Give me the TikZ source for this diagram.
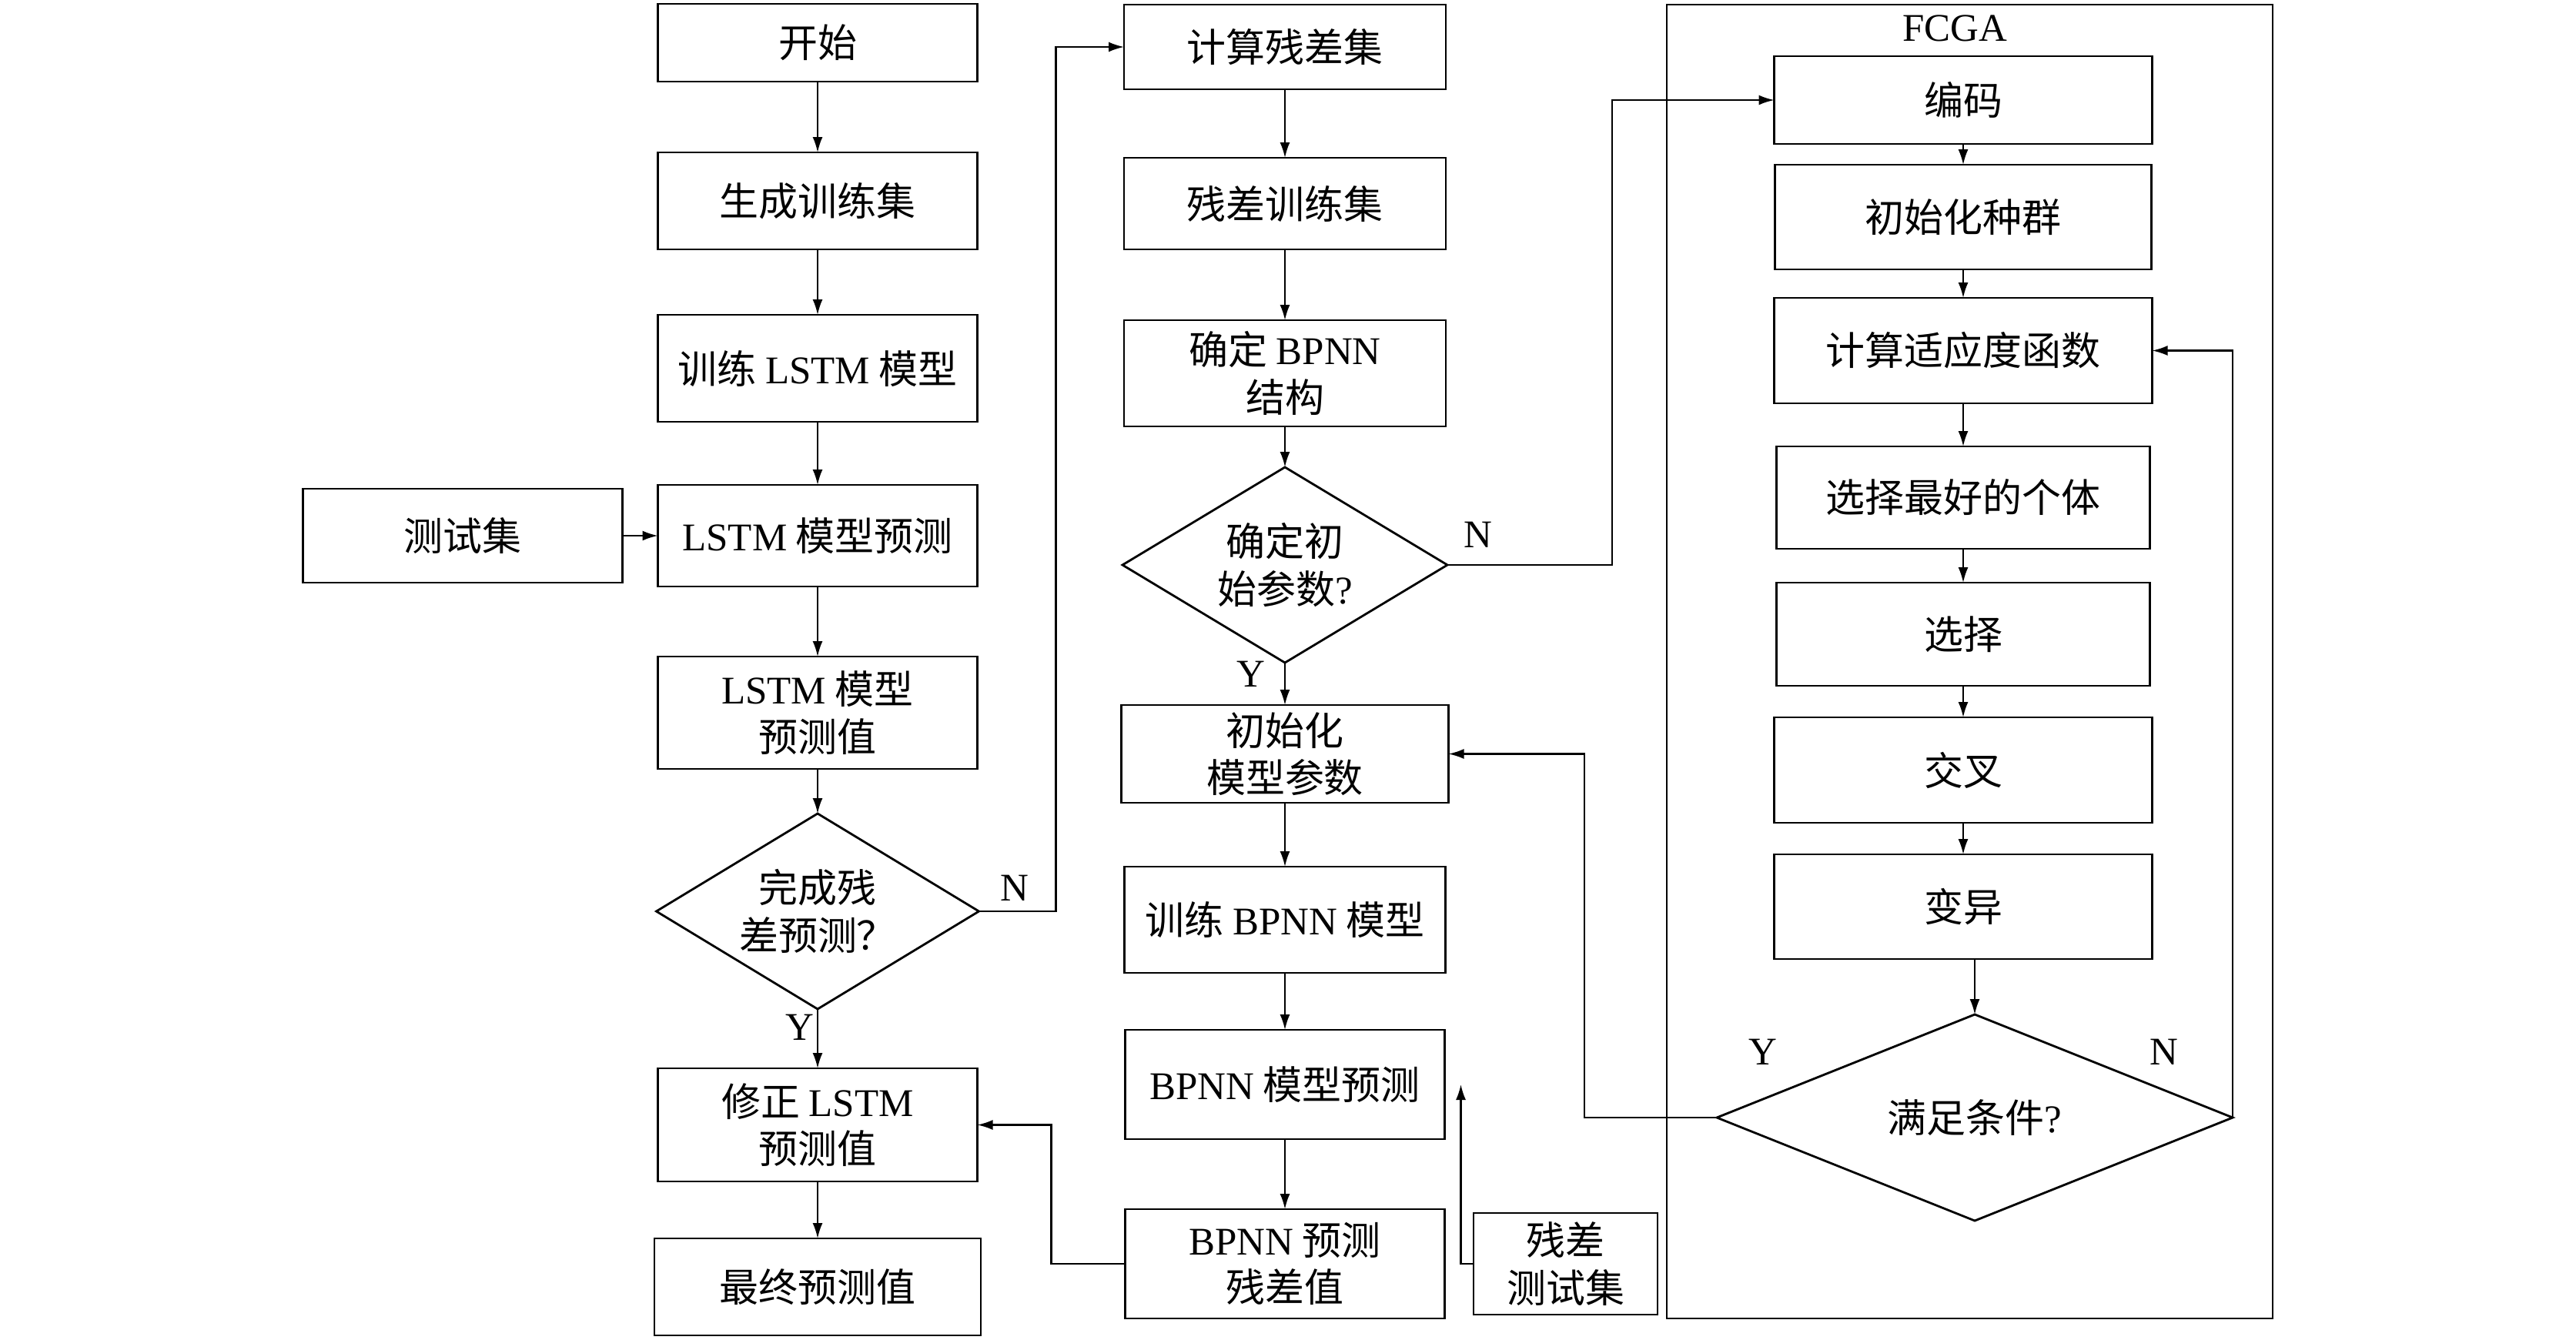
\documentclass[tikz,border=0pt]{standalone}
\usepackage{fontspec}
\setmainfont{Liberation Serif}
\newfontfamily\cjk{Noto Sans CJK SC}
\usepackage{tikz}
\usetikzlibrary{positioning,shapes.geometric,arrows.meta,calc}
\newcommand{\latw}[1]{{\rmfamily #1}}

\begin{document}
\begin{tikzpicture}[
				boxnode/.style={rectangle, draw, line width=0.8pt, minimum width=4.15cm, align=center, inner sep=2pt, outer sep=0pt},
				decnode/.style={diamond, draw, line width=0.8pt, inner sep=0pt, outer sep=0pt, align=center},
				labelnode/.style={font=\rmfamily\fontsize{14.5}{17.5}\selectfont},
				font=\cjk\fontsize{14.5}{17.5}\selectfont,
				line width=0.6pt,
				>={Latex[length=2mm,width=1.3mm]},
				]
				\useasboundingbox (0,0) rectangle (33.46,-17.40);
				%Nodes
				\node[boxnode, minimum height=1.01cm](start) at (10.62,-0.555){开始};
				\node[boxnode, minimum height=1.26cm](gen)[below=0.92cm of start]{生成训练集};
				\node[boxnode, minimum height=1.39cm](trainl)[below=0.85cm of gen]{训练 \latw{LSTM} 模型};
				\node[boxnode, minimum height=1.32cm](predl)[below=0.82cm of trainl]{\latw{LSTM} 模型预测};
				\node[boxnode, minimum height=1.46cm](predv)[below=0.91cm of predl]{\latw{LSTM} 模型\\预测值};
				\node[decnode, aspect=1.65, minimum width=4.19cm, minimum height=2.54cm](done)[below=0.58cm of predv]{完成残\\差预测？};
				\node[boxnode, minimum height=1.47cm](fix)[below=0.77cm of done]{修正 \latw{LSTM}\\预测值};
				\node[boxnode, minimum width=4.24cm, minimum height=1.26cm](final)[below=0.74cm of fix]{最终预测值};
				\node[boxnode, minimum height=1.22cm](test)[left=0.46cm of predl]{测试集};
				
				\node[boxnode, minimum width=4.18cm, minimum height=1.10cm](res) at (16.69,-0.61){计算残差集};
				\node[boxnode, minimum width=4.18cm, minimum height=1.19cm](rtrain)[below=0.89cm of res]{残差训练集};
				\node[boxnode, minimum width=4.18cm, minimum height=1.38cm](bstruct)[below=0.92cm of rtrain]{确定 \latw{BPNN}\\结构};
				\node[decnode, aspect=1.65, minimum width=4.22cm, minimum height=2.54cm](param)[below=0.53cm of bstruct]{确定初\\始参数\latw{?}};
				\node[boxnode, minimum width=4.25cm, minimum height=1.27cm](init)[below=0.55cm of param]{初始化\\模型参数};
				\node[boxnode, minimum width=4.17cm, minimum height=1.38cm](btrain)[below=0.83cm of init]{训练 \latw{BPNN} 模型};
				\node[boxnode, minimum height=1.42cm](bpred)[below=0.74cm of btrain]{\latw{BPNN} 模型预测};
				\node[boxnode, minimum height=1.42cm](bres)[below=0.91cm of bpred]{\latw{BPNN} 预测\\残差值};
				\node[boxnode, minimum width=2.39cm, minimum height=1.32cm](rtest)[right=0.375cm of bres]{残差\\测试集};
				
				\draw[line width=0.8pt] (21.65,-0.06) rectangle (29.52,-17.13);
				\node[labelnode](fcga) at (25.39,-0.37){FCGA};
				\node[boxnode, minimum width=4.91cm, minimum height=1.14cm](code) at (25.50,-1.30){编码};
				\node[boxnode, minimum width=4.89cm, minimum height=1.36cm](pop)[below=0.27cm of code]{初始化种群};
				\node[boxnode, minimum width=4.91cm, minimum height=1.37cm](fit)[below=0.37cm of pop]{计算适应度函数};
				\node[boxnode, minimum width=4.85cm, minimum height=1.33cm](best)[below=0.56cm of fit]{选择最好的个体};
				\node[boxnode, minimum width=4.85cm, minimum height=1.34cm](sel)[below=0.44cm of best]{选择};
				\node[boxnode, minimum width=4.91cm, minimum height=1.37cm](cross)[below=0.41cm of sel]{交叉};
				\node[boxnode, minimum width=4.91cm, minimum height=1.36cm](mut)[below=0.41cm of cross]{变异};
				\node[decnode, aspect=2.5, minimum width=6.70cm, minimum height=2.68cm](cond)[below=0.72cm of mut, xshift=0.15cm]{满足条件\latw{?}};
				
				%Labels
				\node[labelnode](doneN) at (13.18,-11.54){N};
				\node[labelnode](doneY) at (10.39,-13.35){Y};
				\node[labelnode](paramN) at (19.20,-6.95){N};
				\node[labelnode](paramY) at (16.25,-8.76){Y};
				\node[labelnode](condY) at (22.90,-13.67){Y};
				\node[labelnode](condN) at (28.11,-13.67){N};
				\coordinate (rtin) at ($(bpred.east)+(0.21,0)$);
				
				%Lines
				\draw[->] (start.south) -- (gen.north);
				\draw[->] (gen.south) -- (trainl.north);
				\draw[->] (trainl.south) -- (predl.north);
				\draw[->] (test.east) -- (predl.west);
				\draw[->] (predl.south) -- (predv.north);
				\draw[->] (predv.south) -- (done.north);
				\draw[->] (done.south) -- (fix.north);
				\draw[->] (fix.south) -- (final.north);
				\draw[->] (done.east) -- ++(1.0,0) |- (res.west);
				
				\draw[->] (res.south) -- (rtrain.north);
				\draw[->] (rtrain.south) -- (bstruct.north);
				\draw[->] (bstruct.south) -- (param.north);
				\draw[->] (param.south) -- (init.north);
				\draw[->] (init.south) -- (btrain.north);
				\draw[->] (btrain.south) -- (bpred.north);
				\draw[->] (bpred.south) -- (bres.north);
				\draw[->] (bres.west) -- ++(-0.96,0) |- (fix.east);
				\draw[->] (rtest.west) -| (rtin);
				\draw[->] (param.east) -- ++(2.14,0) |- (code.west);
				
				\draw[->] (code.south) -- (pop.north);
				\draw[->] (pop.south) -- (fit.north);
				\draw[->] (fit.south) -- (best.north);
				\draw[->] (best.south) -- (sel.north);
				\draw[->] (sel.south) -- (cross.north);
				\draw[->] (cross.south) -- (mut.north);
				\draw[->] (mut.south -| cond.north) -- (cond.north);
				\draw[->] (cond.west) -- ++(-1.72,0) |- (init.east);
				\draw[->] (cond.east) |- (fit.east);
				
			\end{tikzpicture}
\end{document}
